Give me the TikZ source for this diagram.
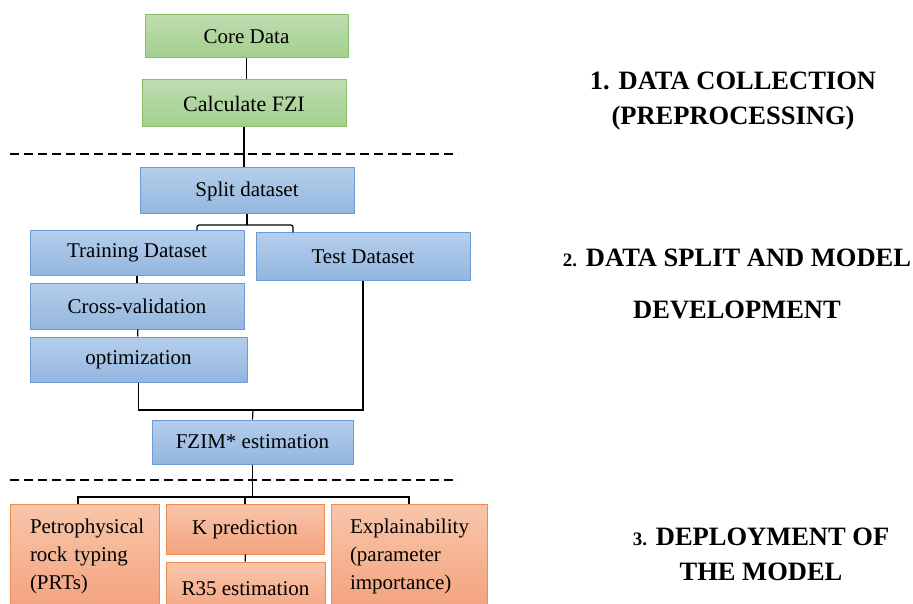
\documentclass[tikz,border=0pt]{standalone}
\usepackage{fontspec}
\setmainfont{Liberation Serif}
\definecolor{grntop}{HTML}{BEDDB0}
\definecolor{grnbot}{HTML}{A2CF8C}
\definecolor{grnline}{HTML}{86BF68}
\definecolor{blutop}{HTML}{B5CEEB}
\definecolor{blubot}{HTML}{93B6DF}
\definecolor{bluline}{HTML}{6C9CD6}
\definecolor{orgtop}{HTML}{F8C6AA}
\definecolor{orgbot}{HTML}{F3A37F}
\definecolor{orgline}{HTML}{EF8A50}
\begin{document}
\begin{tikzpicture}[x=1pt,y=-1pt,
	box/.style={line width=1pt,inner sep=0pt,font=\fontsize{21}{28}\selectfont},
	grnbox/.style={box,draw=grnline,top color=grntop,bottom color=grnbot},
	blubox/.style={box,draw=bluline,top color=blutop,bottom color=blubot},
	orgbox/.style={box,draw=orgline,top color=orgtop,bottom color=orgbot},
	head/.style={font=\bfseries\fontsize{26.5}{35}\selectfont,align=center},
	sep/.style={line width=1.6pt,dash pattern=on 9pt off 5pt},
	link/.style={line width=1.2pt}]
	\clip (0,0) rectangle (913,604);
	% boxes
	\node[grnbox,minimum width=203pt,minimum height=43pt] (core) at (246.5,36.5) {Core Data};
	\node[grnbox,minimum width=204pt,minimum height=47pt,font=\fontsize{22}{28}\selectfont] (fzi) at (244,103.5) {Calculate FZI};
	\node[blubox,minimum width=214pt,minimum height=46pt] (split) at (247,191) {Split dataset};
	\node[blubox,minimum width=214pt,minimum height=44pt] (train) at (137,253) {Training Dataset};
	\node[blubox,minimum width=214pt,minimum height=47pt] (test) at (363,256.5) {Test Dataset};
	\node[blubox,minimum width=214pt,minimum height=46pt] (cross) at (137,306) {Cross-validation};
	\node[blubox,minimum width=217pt,minimum height=45pt] (optim) at (138.5,359.5) {optimization};
	\node[blubox,minimum width=201pt,minimum height=44pt] (fzim) at (252.5,442) {FZIM* estimation};
	\node[orgbox,minimum width=149pt,minimum height=104pt,text width=109pt,align=left] (prt) at (84.5,556) {Petrophysical\\rock typing\\(PRTs)};
	\node[orgbox,minimum width=158pt,minimum height=50pt] (kpred) at (245,529) {K prediction};
	\node[orgbox,minimum width=159pt,minimum height=54pt] (r35) at (245.5,589) {R35 estimation};
	\node[orgbox,minimum width=156pt,minimum height=104pt,text width=118pt,align=left] (expl) at (409,556) {Explainability\\(parameter\\importance)};
	% stage titles
	\node[head] (stage1) at (733,101) {1. DATA COLLECTION\\(PREPROCESSING)};
	\node[head] (stage2) at (737,284) {{\fontsize{19}{35}\selectfont 2.} DATA SPLIT AND MODEL\\[17pt]DEVELOPMENT};
	\node[head] (stage3) at (761,554) {{\fontsize{19}{35}\selectfont 3.} DEPLOYMENT OF\\THE MODEL};
	% separators
	\draw[sep] (10,154) -- (458,154);
	\draw[sep] (10,480) -- (458,480);
	% connectors
	\coordinate (bl) at (197,225);
	\coordinate (br) at (293,225);
	\coordinate (merge) at (253,410);
	\coordinate (fanl) at (78,497);
	\draw[link] (core.south) -- (core.south |- fzi.north);
	\draw[link] (fzi.south) -- (fzi.south |- split.north);
	\draw[link] (split.south) -- (split.south |- bl);
	\draw[link,rounded corners=2pt] (train.north -| bl) |- (br) -- (test.north -| br);
	\draw[link] (train) -- (cross);
	\draw[link] (cross) -- (optim);
	\draw[link] (optim.south) |- (merge) -| (test.south);
	\draw[link] (merge) -- (fzim.north);
	\draw[link] (fzim.south) -- (fzim.south |- fanl);
	\draw[link] (prt.north -| fanl) -- (fanl) -| (expl.north);
	\draw[link] (kpred.north |- fanl) -- (kpred.north);
	\draw[link] (kpred) -- (r35);
\end{tikzpicture}
\end{document}
